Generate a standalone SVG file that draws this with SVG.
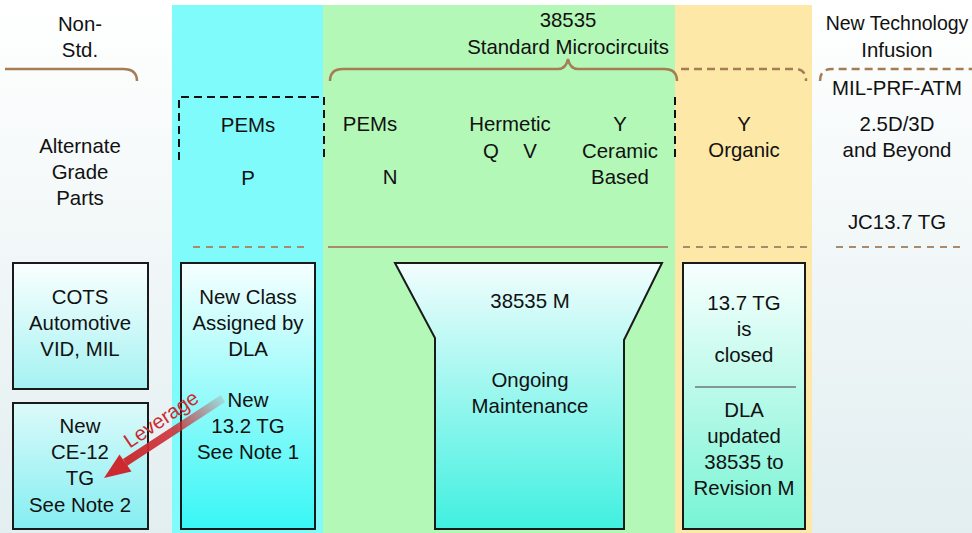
<svg xmlns="http://www.w3.org/2000/svg" width="972" height="533" viewBox="0 0 972 533">
<defs>
<linearGradient id="bg" x1="0" y1="0" x2="0" y2="1"><stop offset="0" stop-color="#ffffff"/><stop offset="1" stop-color="#e2eef0"/></linearGradient>
<linearGradient id="gBoxA" x1="0" y1="0" x2="0" y2="1"><stop offset="0" stop-color="#fbffff"/><stop offset="1" stop-color="#a4f2f2"/></linearGradient>
<linearGradient id="gBoxB" x1="0" y1="0" x2="0" y2="1"><stop offset="0" stop-color="#dcfafa"/><stop offset="1" stop-color="#84eef2"/></linearGradient>
<linearGradient id="gBoxC" x1="0" y1="0" x2="0" y2="1"><stop offset="0" stop-color="#f6ffff"/><stop offset="1" stop-color="#38f6f6"/></linearGradient>
<linearGradient id="gFunnel" x1="0" y1="0" x2="0" y2="1"><stop offset="0" stop-color="#f2fdfd"/><stop offset="1" stop-color="#40f0e0"/></linearGradient>
<linearGradient id="gYel" x1="0" y1="0" x2="0" y2="1"><stop offset="0" stop-color="#f8fffe"/><stop offset="1" stop-color="#78f4d4"/></linearGradient>
<linearGradient id="gArrow" gradientUnits="userSpaceOnUse" x1="222" y1="398" x2="120" y2="468"><stop offset="0" stop-color="#cc2a30" stop-opacity="0.15"/><stop offset="0.45" stop-color="#cc2a30" stop-opacity="0.85"/><stop offset="1" stop-color="#cc2a30"/></linearGradient>
</defs>
<style>
text{font-family:"Liberation Sans",Arial,sans-serif;font-size:20.4px;fill:#111;text-anchor:middle}
.box{stroke:#1a1a1a;stroke-width:2}
.brace{fill:none;stroke:#a67c55;stroke-width:2.5}
.dash{stroke-dasharray:8 5}
.sep{fill:none;stroke:#a88a6c;stroke-width:2}
.sepd{stroke-dasharray:7 6}
.bracket{fill:none;stroke:#111;stroke-width:2;stroke-dasharray:8 5}
</style>
<rect x="0" y="0" width="972" height="533" fill="url(#bg)"/>
<g id="columns">
<rect x="172" y="5" width="151" height="528" fill="#80fbfb"/>
<rect x="323" y="5" width="352" height="528" fill="#b4f8b8"/>
<rect x="675" y="5" width="137" height="528" fill="#fde8a8"/>
</g>
<g id="braces">
<path class="brace" d="M5,69 H123 Q137,69 137,81"/>
<path class="brace" d="M330,81 Q330,69 343,69 H558 Q566,69 568,59 Q570,69 578,69 H664 Q677,69 677,81"/>
<path class="brace dash" d="M681,69 H795 Q806,69 806,81"/>
<path class="brace dash" d="M820,81 Q820,69 832,69 H972"/>
<path class="bracket" d="M179,160 V97 H324 V160"/>
<path class="bracket" d="M675,97 V160"/>
<path class="sep sepd" d="M193,247 H304"/>
<path class="sep" d="M328,247 H668"/>
<path class="sep sepd" d="M683,247 H807"/>
<path class="sep sepd" d="M836,247 H960"/>
</g>
<g id="headers">
<text x="80" y="31">Non-</text>
<text x="80" y="57">Std.</text>
<text x="568" y="27">38535</text>
<text x="568" y="54">Standard Microcircuits</text>
<text x="897" y="30" style="font-size:19.5px">New Technology</text>
<text x="897" y="57">Infusion</text>
</g>
<g id="categories">
<text x="80" y="153">Alternate</text>
<text x="80" y="179">Grade</text>
<text x="80" y="205">Parts</text>
<text x="248" y="132">PEMs</text>
<text x="248" y="185">P</text>
<text x="370" y="131">PEMs</text>
<text x="390" y="184">N</text>
<text x="510" y="131">Hermetic</text>
<text x="491" y="158">Q</text>
<text x="530" y="158">V</text>
<text x="620" y="131">Y</text>
<text x="620" y="158">Ceramic</text>
<text x="620" y="184">Based</text>
<text x="744" y="131">Y</text>
<text x="744" y="157">Organic</text>
<text x="897" y="95">MIL-PRF-ATM</text>
<text x="897" y="131">2.5D/3D</text>
<text x="897" y="157">and Beyond</text>
<text x="897" y="229">JC13.7 TG</text>
</g>
<g id="node-cots">
<rect class="box" x="13" y="263" width="135" height="126" fill="url(#gBoxA)"/>
<text x="80" y="304">COTS</text>
<text x="80" y="330">Automotive</text>
<text x="80" y="356">VID, MIL</text>
</g>
<g id="node-ce12">
<rect class="box" x="13" y="403" width="135" height="126" fill="url(#gBoxB)"/>
<text x="80" y="433">New</text>
<text x="80" y="459">CE-12</text>
<text x="80" y="485">TG</text>
<text x="80" y="512">See Note 2</text>
</g>
<g id="node-newclass">
<rect class="box" x="181" y="263" width="134" height="266" fill="url(#gBoxC)"/>
<text x="248" y="304">New Class</text>
<text x="248" y="330">Assigned by</text>
<text x="248" y="356">DLA</text>
<text x="248" y="407">New</text>
<text x="248" y="433">13.2 TG</text>
<text x="248" y="459">See Note 1</text>
</g>
<g id="node-funnel">
<path class="box" d="M395,263 H662 L624,340 V529 H435 V338 Z" fill="url(#gFunnel)"/>
<text x="530" y="308">38535 M</text>
<text x="530" y="387">Ongoing</text>
<text x="530" y="413">Maintenance</text>
</g>
<g id="node-137tg">
<rect class="box" x="683" y="263" width="122" height="266" fill="url(#gYel)"/>
<text x="744" y="310">13.7 TG</text>
<text x="744" y="336">is</text>
<text x="744" y="362">closed</text>
<line x1="695" y1="387" x2="796" y2="387" stroke="#6f7777" stroke-width="1.5"/>
<text x="744" y="417">DLA</text>
<text x="744" y="443">updated</text>
<text x="744" y="469">38535 to</text>
<text x="744" y="495">Revision M</text>
</g>
<g id="connectors">
<path d="M221,395 L123,459 L127,466 L225,402 Z" fill="url(#gArrow)"/>
<path d="M104,478 L119.5,454.5 L131.5,471.5 Z" fill="#cc2a30"/>
<text x="165" y="425" transform="rotate(-34 165 425)" style="fill:#cc2a30">Leverage</text>
</g>
</svg>
